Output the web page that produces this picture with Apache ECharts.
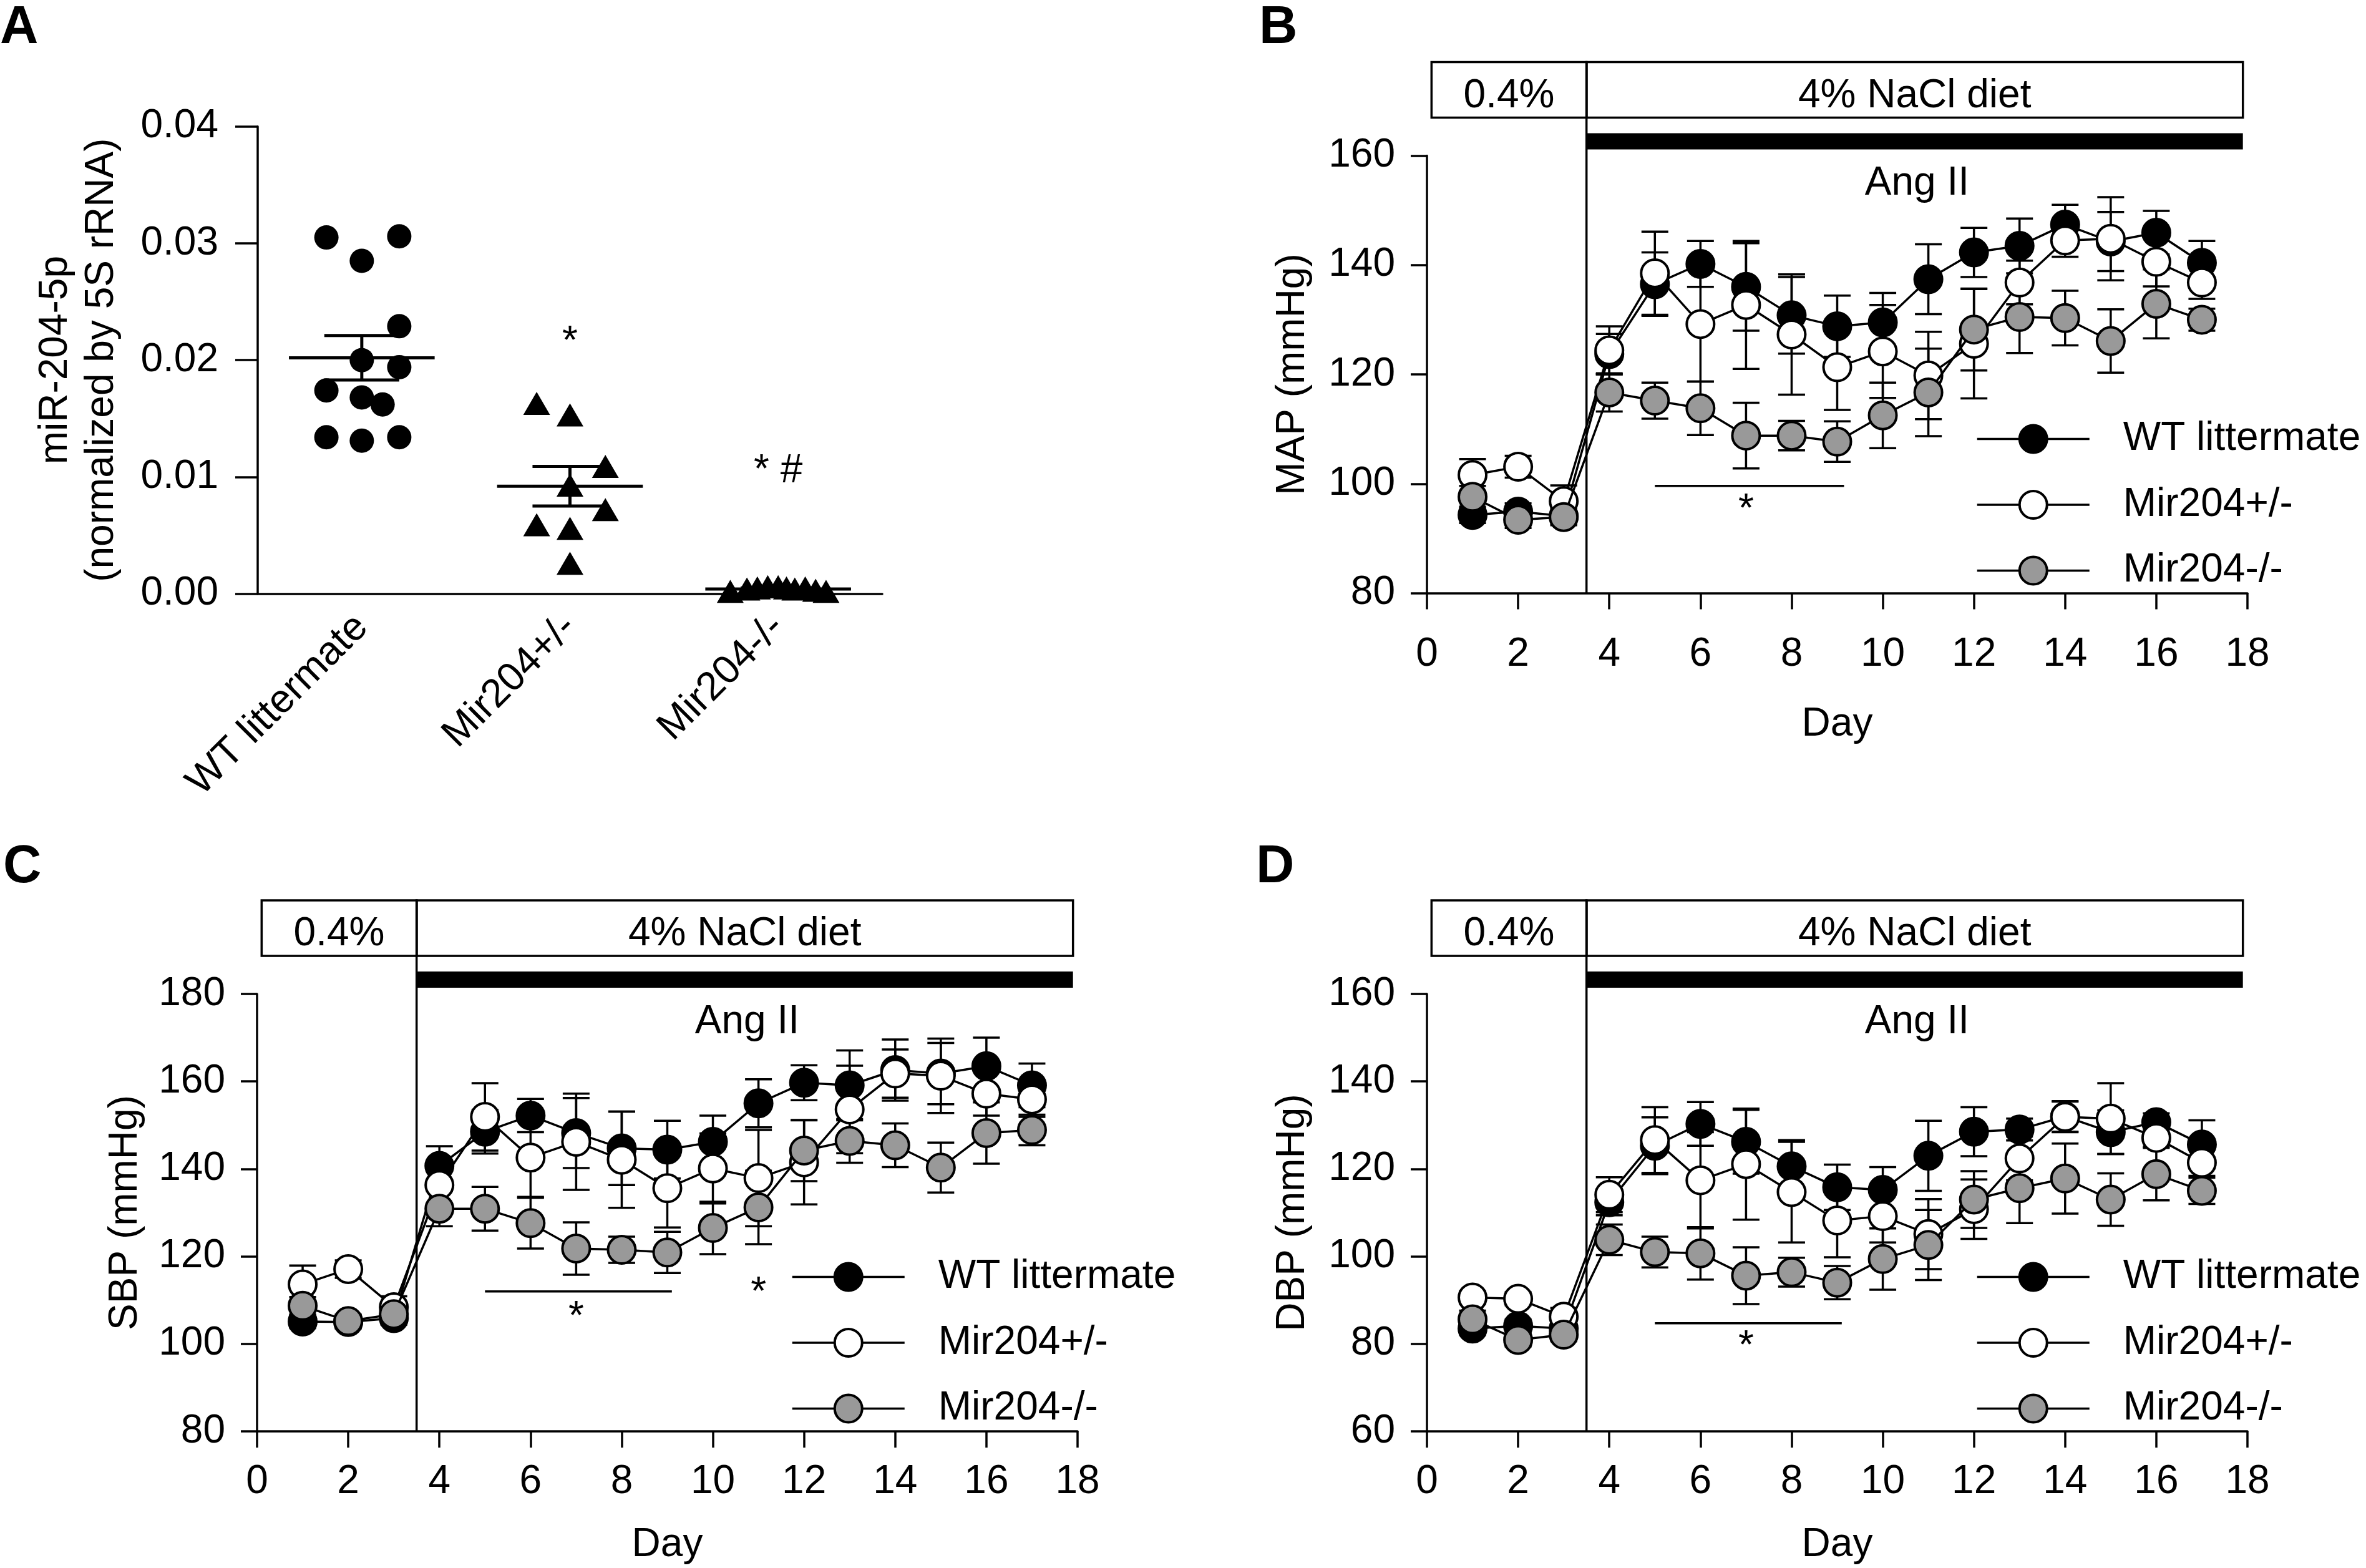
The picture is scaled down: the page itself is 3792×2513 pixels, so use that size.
<!DOCTYPE html>
<html>
<head>
<meta charset="utf-8">
<script src="https://cdn.jsdelivr.net/npm/echarts@6/dist/echarts.min.js"></script>
<style>
  html, body { margin: 0; padding: 0; background: #fff; }
  #chart { width: 3792px; height: 2513px; }
</style>
</head>
<body>
<div id="chart"></div>
<script>
// ---------------- DATA ----------------
const groupNames = ['WT littermate', 'Mir204+/-', 'Mir204-/-'];

// Panel A: miR-204-5p (normalized by 5S rRNA)
const aCategories = ['WT littermate', 'Mir204+/-', 'Mir204-/-'];
const aWT = [0.0305, 0.0306, 0.0285, 0.0229, 0.0200, 0.0194, 0.0174, 0.0168, 0.0162, 0.0134, 0.0131, 0.0134];
const aWTJitter = [-0.17, 0.18, 0, 0.18, 0, 0.18, -0.17, 0, 0.1, -0.17, 0, 0.18];
const aHet = [0.0163, 0.0153, 0.0109, 0.0093, 0.0072, 0.0059, 0.0056, 0.0026];
const aHetJitter = [-0.16, 0, 0.17, 0, 0.17, -0.16, 0, 0];
const aKO = [0.0002, 0.0004, 0.0005, 0.0006, 0.0006, 0.0005, 0.0004, 0.0005, 0.0003, 0.0002];
const aKOJitter = [-0.23, -0.15, -0.1, -0.05, 0, 0.04, 0.08, 0.13, 0.18, 0.23];
const aMean = [0.0202, 0.0092, 0.0004];
const aSem = [0.0019, 0.0017, 0.0001];
const aMarks = [{ x: 1, y: 0.0222, text: '*' }, { x: 2, y: 0.0105, text: '* #' }];

// Days
const days = [1, 2, 3, 4, 5, 6, 7, 8, 9, 10, 11, 12, 13, 14, 15, 16, 17];

// Panel B: MAP (mmHg)
const mapWT  = [94.3, 94.9, 94.1, 123.7, 136.5, 140.2, 136.0, 130.8, 128.8, 129.5, 137.4, 142.3, 143.5, 147.4, 144.3, 145.9, 140.4];
const mapHet = [101.6, 103.1, 96.8, 124.4, 138.5, 129.2, 132.7, 127.3, 121.3, 124.2, 119.8, 125.6, 136.8, 144.5, 144.8, 140.6, 136.8];
const mapKO  = [97.6, 93.4, 93.9, 116.7, 115.2, 113.8, 108.8, 108.8, 107.7, 112.5, 116.7, 128.2, 130.5, 130.3, 126.1, 132.9, 130.0];
const mapWTsem  = [1.5, 1.5, 1.5, 3.7, 5.8, 4.2, 8.0, 7.0, 5.6, 5.4, 6.4, 4.5, 5.0, 3.6, 5.4, 4.0, 4.0];
const mapHetsem = [2.9, 2.0, 2.9, 4.4, 7.6, 10.5, 11.7, 11.0, 7.8, 8.5, 8.0, 10.0, 4.0, 3.0, 7.6, 4.5, 3.0];
const mapKOsem  = [2.0, 1.5, 1.5, 3.5, 3.3, 4.9, 6.0, 2.7, 3.7, 6.0, 8.0, 7.5, 6.6, 5.0, 5.8, 6.3, 2.0];

// Panel C: SBP (mmHg)
const sbpWT  = [105.1, 105.0, 105.9, 140.7, 148.5, 152.2, 148.2, 144.7, 144.4, 146.2, 155.0, 159.7, 159.1, 162.6, 161.8, 163.5, 159.1];
const sbpHet = [113.6, 117.1, 108.4, 136.3, 151.9, 142.6, 146.2, 142.1, 135.6, 140.1, 137.9, 141.5, 153.6, 161.8, 161.3, 157.2, 155.9];
const sbpKO  = [108.7, 105.2, 106.8, 130.9, 130.9, 127.6, 121.8, 121.5, 120.9, 126.5, 131.2, 144.2, 146.4, 145.4, 140.3, 148.2, 148.9];
const sbpWTsem  = [1.5, 1.5, 1.5, 4.5, 5.0, 3.8, 8.0, 8.4, 6.6, 6.0, 5.5, 4.0, 8.0, 7.0, 7.0, 6.5, 5.0];
const sbpHetsem = [4.3, 2.0, 2.5, 5.0, 7.7, 9.0, 11.0, 11.0, 9.0, 8.0, 11.0, 9.6, 10.0, 5.5, 8.5, 5.0, 4.0];
const sbpKOsem  = [2.0, 1.5, 1.5, 4.0, 5.0, 5.8, 6.0, 3.0, 4.7, 6.0, 8.4, 7.0, 5.0, 5.0, 5.7, 7.0, 3.5];

// Panel D: DBP (mmHg)
const dbpWT  = [83.5, 84.1, 83.5, 112.4, 125.3, 130.3, 126.2, 120.6, 115.8, 115.2, 123.0, 128.5, 129.0, 132.0, 128.4, 130.7, 125.6];
const dbpHet = [90.6, 90.3, 86.2, 114.1, 126.6, 117.4, 121.1, 114.7, 108.2, 109.2, 105.1, 110.8, 122.4, 131.9, 131.5, 127.1, 121.4];
const dbpKO  = [85.6, 80.9, 82.1, 103.8, 101.0, 100.7, 95.6, 96.4, 94.0, 99.4, 102.6, 113.0, 115.6, 117.8, 113.0, 118.8, 115.0];
const dbpWTsem  = [1.5, 1.5, 1.5, 3.0, 6.5, 5.0, 7.3, 6.0, 5.2, 5.2, 8.0, 5.6, 2.5, 3.5, 5.0, 2.0, 5.5];
const dbpHetsem = [1.5, 1.5, 2.0, 4.0, 7.5, 11.0, 12.7, 11.5, 8.4, 6.0, 8.0, 6.8, 5.0, 3.5, 8.1, 2.0, 3.0];
const dbpKOsem  = [2.0, 1.5, 1.5, 3.5, 3.5, 6.0, 6.5, 3.3, 3.8, 7.0, 8.0, 6.5, 8.0, 8.0, 6.0, 6.0, 3.0];

// Protocol annotations (in day units)
const dietBoxes = [{ from: 0.1, to: 3.5, label: '0.4%' }, { from: 3.5, to: 17.9, label: '4% NaCl diet' }];
const angBar = { from: 3.5, to: 17.9, label: 'Ang II', labelAt: 10.75 };
const sigB = { from: 5, to: 9.15, y: 99.6, stars: [{ x: 7, y: 96.6 }] };
const sigC = { from: 5, to: 9.1, y: 112, stars: [{ x: 7, y: 107.8 }, { x: 11, y: 113.4 }] };
const sigD = { from: 5, to: 9.1, y: 84.7, stars: [{ x: 7, y: 81 }] };

// ---------------- STYLE ----------------
const FONT = '"Liberation Sans", Arial, Helvetica, sans-serif';
const FS = 64;
const LW = 3.5;
const fills = ['#000000', '#ffffff', '#999999'];

function txt(text, x, y, size) {
  return {
    type: 'text',
    style: {
      text: text, x: x, y: y, fill: '#000',
      fontSize: size || FS, fontFamily: FONT,
      align: 'center', verticalAlign: 'middle',
      textAlign: 'center', textVerticalAlign: 'middle'
    }
  };
}
function seg(x1, y1, x2, y2, w) {
  return { type: 'line', shape: { x1: x1, y1: y1, x2: x2, y2: y2 }, style: { stroke: '#000', lineWidth: w || LW } };
}

function valueX(gridIndex, nameGap, margin) {
  return {
    type: 'value', gridIndex: gridIndex, min: 0, max: 18, interval: 2,
    name: 'Day', nameLocation: 'middle', nameGap: nameGap, nameMoveOverlap: false,
    nameTextStyle: { fontSize: FS, fontFamily: FONT, color: '#000' },
    axisLine: { show: true, onZero: false, lineStyle: { color: '#000', width: LW } },
    axisTick: { show: true, inside: false, length: 26, lineStyle: { color: '#000', width: LW } },
    axisLabel: { show: true, fontSize: FS, fontFamily: FONT, color: '#000', margin: margin },
    splitLine: { show: false }
  };
}
function valueY(gridIndex, min, max, name, nameGap) {
  return {
    type: 'value', gridIndex: gridIndex, min: min, max: max, interval: 20,
    name: name, nameLocation: 'middle', nameGap: nameGap, nameMoveOverlap: false,
    nameTextStyle: { fontSize: FS, fontFamily: FONT, color: '#000' },
    axisLine: { show: true, onZero: false, lineStyle: { color: '#000', width: LW } },
    axisTick: { show: true, inside: false, length: 26, lineStyle: { color: '#000', width: LW } },
    axisLabel: { show: true, fontSize: FS, fontFamily: FONT, color: '#000', margin: 51 },
    splitLine: { show: false }
  };
}

function lineSeries(name, values, xIdx, yIdx, fill, z) {
  return {
    type: 'line', name: name, xAxisIndex: xIdx, yAxisIndex: yIdx,
    data: days.map((d, i) => [d, values[i]]),
    symbol: 'circle', symbolSize: 44, showSymbol: true,
    itemStyle: { color: fill, borderColor: '#000', borderWidth: 4, opacity: 1 },
    lineStyle: { color: '#000', width: LW, opacity: 1 },
    emphasis: { disabled: true }, z: z, animation: false
  };
}
function errSeries(values, sems, xIdx, yIdx) {
  return {
    type: 'custom', xAxisIndex: xIdx, yAxisIndex: yIdx, z: 2, silent: true,
    encode: { x: 0, y: 1 },
    data: days.map((d, i) => [d, values[i], sems[i]]),
    renderItem: function (params, api) {
      const x = api.value(0), m = api.value(1), s = api.value(2);
      const t = api.coord([x, m + s]), b = api.coord([x, m - s]);
      const hw = 21.5;
      return {
        type: 'group', children: [
          seg(t[0], t[1], b[0], b[1]),
          seg(t[0] - hw, t[1], t[0] + hw, t[1]),
          seg(b[0] - hw, b[1], b[0] + hw, b[1])
        ]
      };
    }
  };
}
function annotation(xIdx, yIdx, yMin, yMax, sig) {
  return {
    type: 'custom', xAxisIndex: xIdx, yAxisIndex: yIdx, z: 6, silent: true, clip: false,
    encode: { x: 0, y: 1 },
    data: [[0, yMin]],
    renderItem: function (params, api) {
      const gTop = api.coord([0, yMax])[1];
      const gBot = api.coord([0, yMin])[1];
      const X = v => api.coord([v, yMin])[0];
      const boxTop = gTop - 150, boxBot = gTop - 61;
      const ch = [];
      dietBoxes.forEach(b => {
        ch.push({ type: 'rect', shape: { x: X(b.from), y: boxTop, width: X(b.to) - X(b.from), height: boxBot - boxTop },
                  style: { fill: 'none', stroke: '#000', lineWidth: LW } });
        ch.push(txt(b.label, (X(b.from) + X(b.to)) / 2, (boxTop + boxBot) / 2 + 10));
      });
      ch.push(seg(X(3.5), boxTop, X(3.5), gBot));
      ch.push({ type: 'rect', shape: { x: X(angBar.from), y: gTop - 36, width: X(angBar.to) - X(angBar.from), height: 26 },
                style: { fill: '#000' } });
      ch.push(txt(angBar.label, X(angBar.labelAt), gTop + 45));
      const sy = api.coord([0, sig.y])[1];
      ch.push(seg(X(sig.from), sy, X(sig.to), sy));
      sig.stars.forEach(s => {
        const p = api.coord([s.x, s.y]);
        ch.push(txt('*', p[0], p[1] + 13));
      });
      return { type: 'group', children: ch };
    }
  };
}

// ---------------- OPTION ----------------
const letterStyle = { fontSize: 85, fontWeight: 'bold', fontFamily: FONT, color: '#000' };
const legendBase = {
  data: groupNames, orient: 'vertical', itemWidth: 180, itemHeight: 55, itemGap: 41.5,
  padding: 0, selectedMode: false,
  lineStyle: { color: '#000', width: LW, opacity: 1, type: 'solid' },
  itemStyle: { borderColor: '#000', borderWidth: 4, opacity: 1 },
  textStyle: { fontSize: FS, fontFamily: FONT, color: '#000', padding: [0, 0, 0, 49] }
};

const option = {
  animation: false,
  backgroundColor: '#fff',
  textStyle: { fontFamily: FONT },
  title: [
    { text: 'A', left: 0, top: 3, padding: 0, textStyle: letterStyle },
    { text: 'B', left: 2018, top: 3, padding: 0, textStyle: letterStyle },
    { text: 'C', left: 5, top: 1348, padding: 0, textStyle: letterStyle },
    { text: 'D', left: 2013, top: 1348, padding: 0, textStyle: letterStyle }
  ],
  legend: [
    Object.assign({}, legendBase, { left: 3167, top: 671.5 }),
    Object.assign({}, legendBase, { left: 1268, top: 2014.5 }),
    Object.assign({}, legendBase, { left: 3167, top: 2014.5 })
  ],
  grid: [
    { left: 413, top: 202.8, width: 1001, height: 748.7, outerBoundsMode: 'none' },
    { left: 2287, top: 249.5, width: 1315, height: 701, outerBoundsMode: 'none' },
    { left: 412, top: 1593, width: 1315, height: 701, outerBoundsMode: 'none' },
    { left: 2287, top: 1593, width: 1315, height: 701, outerBoundsMode: 'none' }
  ],
  xAxis: [
    {
      type: 'category', gridIndex: 0, data: aCategories, boundaryGap: true,
      axisLine: { show: true, onZero: false, lineStyle: { color: '#000', width: LW } },
      axisTick: { show: false },
      axisLabel: { rotate: 45, fontSize: FS, fontFamily: FONT, color: '#000', margin: 44, interval: 0 },
      splitLine: { show: false }
    },
    { type: 'value', gridIndex: 0, min: -0.5, max: 2.5, show: false, position: 'top',
      axisLine: { show: false, onZero: false }, splitLine: { show: false } },
    valueX(1, 179, 67),
    valueX(2, 150, 49),
    valueX(3, 150, 49)
  ],
  yAxis: [
    {
      type: 'value', gridIndex: 0, min: 0, max: 0.04, interval: 0.01,
      name: 'miR-204-5p\n(normalized by 5S rRNA)', nameLocation: 'middle', nameGap: 213, nameMoveOverlap: false,
      nameTextStyle: { fontSize: FS, fontFamily: FONT, color: '#000', lineHeight: 74, align: 'center' },
      axisLine: { show: true, onZero: false, lineStyle: { color: '#000', width: LW } },
      axisTick: { show: true, inside: false, length: 36, lineStyle: { color: '#000', width: LW } },
      axisLabel: { fontSize: FS, fontFamily: FONT, color: '#000', margin: 63, formatter: v => v.toFixed(2) },
      splitLine: { show: false }
    },
    valueY(1, 80, 160, 'MAP (mmHg)', 183),
    valueY(2, 80, 180, 'SBP (mmHg)', 179),
    valueY(3, 60, 160, 'DBP (mmHg)', 183)
  ],
  series: [
    // Panel A
    {
      type: 'scatter', name: 'A-WT', xAxisIndex: 1, yAxisIndex: 0,
      data: aWT.map((v, i) => [0 + aWTJitter[i], v]),
      symbol: 'circle', symbolSize: 39, itemStyle: { color: '#000', opacity: 1 }, z: 3
    },
    {
      type: 'scatter', name: 'A-Het', xAxisIndex: 1, yAxisIndex: 0,
      data: aHet.map((v, i) => [1 + aHetJitter[i], v]),
      symbol: 'triangle', symbolSize: [43, 37], itemStyle: { color: '#000', opacity: 1 }, z: 3
    },
    {
      type: 'scatter', name: 'A-KO', xAxisIndex: 1, yAxisIndex: 0,
      data: aKO.map((v, i) => [2 + aKOJitter[i], v]),
      symbol: 'triangle', symbolSize: [43, 37], itemStyle: { color: '#000', opacity: 1 }, z: 3
    },
    {
      type: 'custom', name: 'A-mean', xAxisIndex: 1, yAxisIndex: 0, z: 4, silent: true,
      encode: { x: 0, y: 1 },
      data: aMean.map((m, i) => [i, m, aSem[i]]),
      renderItem: function (params, api) {
        const c = api.value(0), m = api.value(1), s = api.value(2);
        const L = api.coord([c - 0.35, m]), R = api.coord([c + 0.35, m]);
        const T = api.coord([c, m + s]), B = api.coord([c, m - s]);
        const cw = api.coord([c + 0.18, m])[0] - api.coord([c, m])[0];
        return {
          type: 'group', children: [
            seg(L[0], L[1], R[0], R[1], 5),
            seg(T[0], T[1], B[0], B[1], 5),
            seg(T[0] - cw, T[1], T[0] + cw, T[1], 5),
            seg(B[0] - cw, B[1], B[0] + cw, B[1], 5)
          ]
        };
      }
    },
    {
      type: 'custom', name: 'A-marks', xAxisIndex: 1, yAxisIndex: 0, z: 5, silent: true, clip: false,
      encode: { x: 0, y: 1 },
      data: aMarks.map(m => [m.x, m.y]),
      renderItem: function (params, api) {
        const p = api.coord([api.value(0), api.value(1)]);
        const t = aMarks[params.dataIndex].text;
        return txt(t, p[0], p[1] + (t === '*' ? 13 : 0));
      }
    },

    // Panel B
    errSeries(mapWT, mapWTsem, 2, 1),
    errSeries(mapHet, mapHetsem, 2, 1),
    errSeries(mapKO, mapKOsem, 2, 1),
    lineSeries(groupNames[0], mapWT, 2, 1, fills[0], 3),
    lineSeries(groupNames[1], mapHet, 2, 1, fills[1], 4),
    lineSeries(groupNames[2], mapKO, 2, 1, fills[2], 5),
    annotation(2, 1, 80, 160, sigB),

    // Panel C
    errSeries(sbpWT, sbpWTsem, 3, 2),
    errSeries(sbpHet, sbpHetsem, 3, 2),
    errSeries(sbpKO, sbpKOsem, 3, 2),
    lineSeries(groupNames[0], sbpWT, 3, 2, fills[0], 3),
    lineSeries(groupNames[1], sbpHet, 3, 2, fills[1], 4),
    lineSeries(groupNames[2], sbpKO, 3, 2, fills[2], 5),
    annotation(3, 2, 80, 180, sigC),

    // Panel D
    errSeries(dbpWT, dbpWTsem, 4, 3),
    errSeries(dbpHet, dbpHetsem, 4, 3),
    errSeries(dbpKO, dbpKOsem, 4, 3),
    lineSeries(groupNames[0], dbpWT, 4, 3, fills[0], 3),
    lineSeries(groupNames[1], dbpHet, 4, 3, fills[1], 4),
    lineSeries(groupNames[2], dbpKO, 4, 3, fills[2], 5),
    annotation(4, 3, 60, 160, sigD)
  ]
};

const chart = echarts.init(document.getElementById('chart'), null, { renderer: 'canvas', width: 3792, height: 2513 });
chart.setOption(option);
</script>
</body>
</html>
